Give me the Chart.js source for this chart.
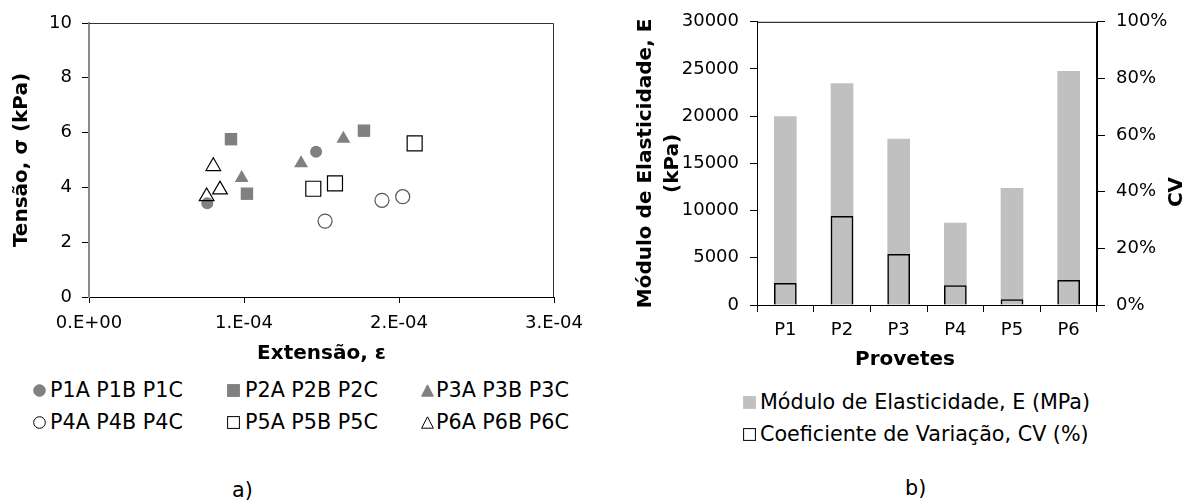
<!DOCTYPE html>
<html>
<head>
<meta charset="utf-8">
<script src="https://cdn.jsdelivr.net/npm/chart.js@4.4.1/dist/chart.umd.min.js"></script>
<style>
  body { margin: 0; background: #fff; }
  #wrap { position: relative; width: 1190px; height: 500px; font-family: 'DejaVu Sans', Verdana, sans-serif; color: #000; }
  canvas { position: absolute; top: 0; }
  .lg { position: absolute; font-size: 20.7px; line-height: 24px; white-space: nowrap; }
  .mk { position: absolute; }
</style>
</head>
<body>
<div id="wrap">
  <canvas id="chartA" width="600" height="370" style="left:0"></canvas>
  <canvas id="chartB" width="570" height="375" style="left:620px"></canvas>
  <div id="legA"></div>
  <div id="legB"></div>
  <div class="lg" style="left:232px;top:478px">a)</div>
  <div class="lg" style="left:905px;top:476px">b)</div>
</div>
<script>
// ---- a) Tensão vs Extensão ----
const seriesNames = ['P1A P1B P1C', 'P2A P2B P2C', 'P3A P3B P3C', 'P4A P4B P4C', 'P5A P5B P5C', 'P6A P6B P6C'];
const p1Ext = [0.763e-4, 1.465e-4];
const p1Ten = [3.42, 5.30];
const p2Ext = [0.916e-4, 1.019e-4, 1.774e-4];
const p2Ten = [5.76, 3.77, 6.07];
const p3Ext = [0.985e-4, 1.368e-4, 1.641e-4];
const p3Ten = [4.34, 4.88, 5.78];
const p4Ext = [1.523e-4, 1.890e-4, 2.024e-4];
const p4Ten = [2.77, 3.53, 3.66];
const p5Ext = [1.447e-4, 1.587e-4, 2.101e-4];
const p5Ten = [3.95, 4.15, 5.61];
const p6Ext = [0.802e-4, 0.845e-4, 0.759e-4];
const p6Ten = [4.77, 3.92, 3.67];
const extTicks = [0, 1e-4, 2e-4, 3e-4];
const tensaoTicks = [0, 2, 4, 6, 8, 10];

// ---- b) Módulo de elasticidade / CV ----
const provetes = ['P1', 'P2', 'P3', 'P4', 'P5', 'P6'];
const moduloE = [20000, 23500, 17600, 8700, 12400, 24800];
const coefVar = [7.8, 31.4, 18.0, 7.0, 2.0, 8.8];
const moduloTicks = [0, 5000, 10000, 15000, 20000, 25000, 30000];
const cvTicks = [0, 20, 40, 60, 80, 100];

const FONT = "'DejaVu Sans', Verdana, sans-serif";
Chart.defaults.font.family = FONT;
Chart.defaults.color = '#000';

const GRAY = '#808080';
// marker looks per series (Excel style)
const markers = [
  { pointStyle: 'circle',   radius: 6,   fill: GRAY, stroke: GRAY, bw: 0 },
  { pointStyle: 'rect',     radius: 8.8, fill: GRAY, stroke: GRAY, bw: 0 },
  { pointStyle: 'triangle', radius: 8,   fill: GRAY, stroke: GRAY, bw: 0 },
  { pointStyle: 'circle',   radius: 7,   fill: 'rgba(0,0,0,0)', stroke: '#555', bw: 1.2 },
  { pointStyle: 'rect',     radius: 10.6, fill: 'rgba(0,0,0,0)', stroke: '#000', bw: 1.2 },
  { pointStyle: 'triangle', radius: 8.5, fill: 'rgba(0,0,0,0)', stroke: '#000', bw: 1.2 }
];

const zip = (xs, ys) => xs.map((x, i) => ({ x: x, y: ys[i] }));
const seriesData = [
  zip(p1Ext, p1Ten), zip(p2Ext, p2Ten), zip(p3Ext, p3Ten),
  zip(p4Ext, p4Ten), zip(p5Ext, p5Ten), zip(p6Ext, p6Ten)
];

function sci(v) {
  if (Math.abs(v) < 1e-12) return '0.E+00';
  const parts = v.toExponential(0).split('e');
  const n = parseInt(parts[1], 10);
  return parts[0] + '.E' + (n < 0 ? '-' : '+') + String(Math.abs(n)).padStart(2, '0');
}

const useTicks = arr => scale => { scale.ticks = arr.map(v => ({ value: v })); };

// top + right edge of the plot area
const frame = {
  id: 'frame',
  afterDatasetsDraw(chart, args, opts) {
    const { ctx, chartArea: a } = chart;
    ctx.save();
    ctx.strokeStyle = opts.color || '#000';
    ctx.lineWidth = 1;
    ctx.beginPath();
    ctx.moveTo(a.left, a.top + 0.5);
    ctx.lineTo(a.right - 0.5, a.top + 0.5);
    ctx.lineTo(a.right - 0.5, a.bottom);
    ctx.stroke();
    ctx.restore();
  }
};

new Chart(document.getElementById('chartA'), {
  type: 'scatter',
  data: {
    datasets: seriesData.map((d, i) => ({
      label: seriesNames[i],
      data: d,
      pointStyle: markers[i].pointStyle,
      pointRadius: markers[i].radius,
      pointBackgroundColor: markers[i].fill,
      pointBorderColor: markers[i].stroke,
      pointBorderWidth: markers[i].bw,
      order: 6 - i
    }))
  },
  options: {
    responsive: false,
    animation: false,
    layout: { padding: { top: 23, right: 46, left: 0, bottom: 0 } },
    plugins: { legend: { display: false }, tooltip: { enabled: false }, frame: { color: '#333' } },
    scales: {
      x: {
        type: 'linear', min: 0, max: 3e-4,
        afterBuildTicks: useTicks(extTicks),
        afterFit: s => { s.height = 73; },
        ticks: { callback: sci, font: { size: 18 }, color: '#000', padding: 10, maxRotation: 0 },
        grid: { drawOnChartArea: false, tickLength: 6, color: '#000' },
        border: { color: '#000', width: 1 },
        title: { display: true, text: 'Extensão, ε', font: { size: 20, weight: 'bold' }, color: '#000', padding: { top: 4, bottom: 4 } }
      },
      y: {
        min: 0, max: 10,
        afterBuildTicks: useTicks(tensaoTicks),
        afterFit: s => { s.width = 89; },
        ticks: { font: { size: 18 }, color: '#000', padding: 10 },
        grid: { drawOnChartArea: false, tickLength: 7, color: '#000' },
        border: { color: '#8c8c8c', width: 2 },
        title: { display: true, text: 'Tensão, σ (kPa)', font: { size: 20, weight: 'bold' }, color: '#000', padding: { top: 10, bottom: 0 } }
      }
    }
  },
  plugins: [frame]
});

// titles of b) that Chart.js would place differently
const extraTitles = {
  id: 'extraTitles',
  afterDraw(chart) {
    const ctx = chart.ctx;
    ctx.save();
    ctx.font = 'bold 20px ' + FONT;
    ctx.fillStyle = '#000';
    ctx.textAlign = 'center';
    ctx.textBaseline = 'middle';
    ctx.fillText('Provetes', chart.width / 2, 360);
    ctx.translate(557, 192);
    ctx.rotate(-Math.PI / 2);
    ctx.fillText('CV', 0, 0);
    ctx.restore();
  }
};

new Chart(document.getElementById('chartB'), {
  type: 'bar',
  data: {
    labels: provetes,
    datasets: [
      {
        label: 'Módulo de Elasticidade, E (MPa)',
        data: moduloE,
        yAxisID: 'y',
        backgroundColor: '#c0c0c0',
        grouped: false,
        barPercentage: 0.4,
        categoryPercentage: 1,
        order: 2
      },
      {
        label: 'Coeficiente de Variação, CV (%)',
        data: coefVar,
        yAxisID: 'y1',
        backgroundColor: 'rgba(0,0,0,0)',
        borderColor: '#000',
        borderWidth: 1.5,
        grouped: false,
        barPercentage: 0.4,
        categoryPercentage: 1,
        order: 1
      }
    ]
  },
  options: {
    responsive: false,
    animation: false,
    layout: { padding: { top: 20, right: 0, left: 0, bottom: 0 } },
    plugins: { legend: { display: false }, tooltip: { enabled: false }, frame: { color: '#000' } },
    scales: {
      x: {
        afterFit: s => { s.height = 70; },
        ticks: { font: { size: 18 }, color: '#000', padding: 8 },
        grid: { drawOnChartArea: false, tickLength: 7, color: '#000', offset: true },
        border: { color: '#000', width: 1 }
      },
      y: {
        position: 'left',
        min: 0, max: 30000,
        afterBuildTicks: useTicks(moduloTicks),
        afterFit: s => { s.width = 137; },
        ticks: { font: { size: 18 }, color: '#000', padding: 11, callback: v => String(v) },
        grid: { drawOnChartArea: false, tickLength: 7, color: '#000' },
        border: { color: '#000', width: 1 },
        title: {
          display: true,
          text: ['Módulo de Elasticidade, E', '(kPa)'],
          font: { size: 20, weight: 'bold', lineHeight: 1.35 },
          color: '#000',
          padding: { top: 12, bottom: 0 }
        }
      },
      y1: {
        position: 'right',
        min: 0, max: 100,
        afterBuildTicks: useTicks(cvTicks),
        afterFit: s => { s.width = 93; },
        ticks: { font: { size: 18 }, color: '#000', padding: 11, callback: v => v + '%' },
        grid: { drawOnChartArea: false, tickLength: 8, color: '#000' },
        border: { color: '#000', width: 1 }
      }
    }
  },
  plugins: [frame, extraTitles]
});

// ---- legends ----
function markerSvg(shape, fill, stroke, size) {
  const s = size;
  let body;
  if (shape === 'circle') {
    body = '<circle cx="' + s / 2 + '" cy="' + s / 2 + '" r="' + (s / 2 - 0.7) + '"';
  } else if (shape === 'rect') {
    body = '<rect x="0.6" y="0.6" width="' + (s - 1.2) + '" height="' + (s - 1.2) + '"';
  } else {
    body = '<polygon points="' + s / 2 + ',0.8 ' + (s - 0.6) + ',' + (s - 0.8) + ' 0.6,' + (s - 0.8) + '"';
  }
  body += ' fill="' + fill + '" stroke="' + stroke + '" stroke-width="1"/>';
  return '<svg width="' + s + '" height="' + s + '" viewBox="0 0 ' + s + ' ' + s + '">' + body + '</svg>';
}

function addItem(parent, cx, cy, shape, fill, stroke, tx, text) {
  const size = 13;
  const m = document.createElement('div');
  m.className = 'mk';
  m.style.left = (cx - size / 2) + 'px';
  m.style.top = (cy - size / 2) + 'px';
  m.style.lineHeight = '0';
  m.innerHTML = markerSvg(shape, fill, stroke, size);
  parent.appendChild(m);
  const t = document.createElement('div');
  t.className = 'lg';
  t.style.left = tx + 'px';
  t.style.top = (cy - 12) + 'px';
  t.textContent = text;
  parent.appendChild(t);
}

const legA = document.getElementById('legA');
const colMk = [39, 233, 427];
const colTx = [50, 245, 436];
const rowY = [390, 422];
const legShapes = ['circle', 'rect', 'triangle', 'circle', 'rect', 'triangle'];
seriesNames.forEach((name, i) => {
  const col = i % 3, row = Math.floor(i / 3);
  const filled = row === 0;
  addItem(legA, colMk[col], rowY[row], legShapes[i], filled ? GRAY : '#fff', filled ? GRAY : '#000', colTx[col], name);
});

const legB = document.getElementById('legB');
addItem(legB, 749, 402, 'rect', '#c0c0c0', '#c0c0c0', 760, 'Módulo de Elasticidade, E (MPa)');
addItem(legB, 749, 434, 'rect', '#fff', '#000', 760, 'Coeficiente de Variação, CV (%)');
</script>
</body>
</html>
